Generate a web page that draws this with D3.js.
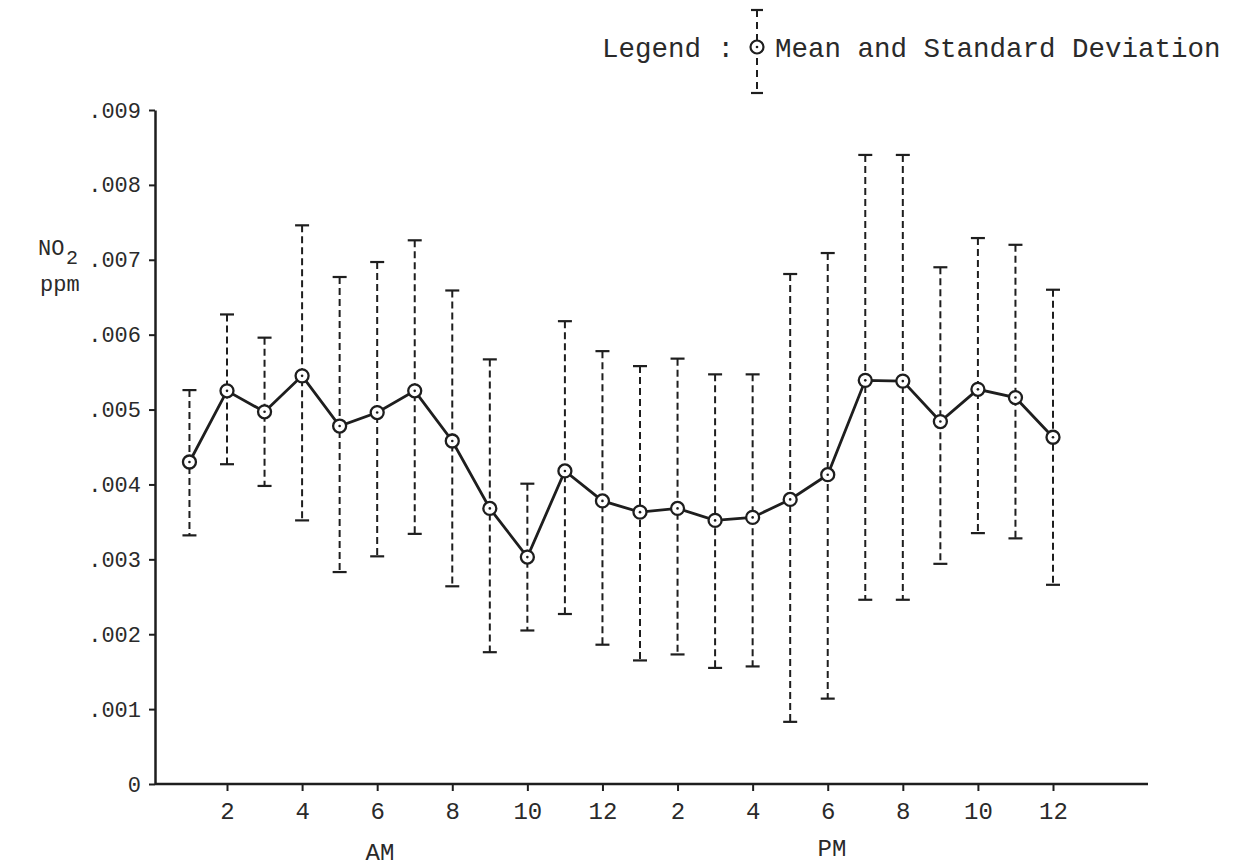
<!DOCTYPE html>
<html>
<head>
<meta charset="utf-8">
<script src="https://cdn.jsdelivr.net/npm/d3@7"></script>
<style>
  html, body { margin: 0; padding: 0; background: #ffffff; }
  svg { display: block; }
  text { font-family: "Liberation Mono", "DejaVu Sans Mono", monospace; fill: #2a2a2a; }
</style>
</head>
<body>
<svg id="chart" width="1238" height="867"></svg>
<script>
// ---- data ----
const hours = [1,2,3,4,5,6,7,8,9,10,11,12,13,14,15,16,17,18,19,20,21,22,23,24];
const meanNO2 = [0.00430,0.00525,0.00497,0.00545,0.00478,0.00496,0.00525,0.00458,0.00368,0.00303,0.00418,0.00378,
                 0.00363,0.00368,0.00352,0.00356,0.00380,0.00413,0.00539,0.00538,0.00484,0.00527,0.00516,0.00463];
const upperSD = [0.00526,0.00627,0.00596,0.00746,0.00677,0.00697,0.00726,0.00659,0.00567,0.00401,0.00618,0.00578,
                 0.00558,0.00568,0.00547,0.00547,0.00681,0.00709,0.00840,0.00840,0.00690,0.00729,0.00720,0.00660];
const lowerSD = [0.00332,0.00427,0.00398,0.00352,0.00283,0.00304,0.00334,0.00264,0.00176,0.00205,0.00227,0.00186,
                 0.00165,0.00173,0.00155,0.00157,0.00083,0.00114,0.00246,0.00246,0.00294,0.00335,0.00328,0.00266];
const xTickHours = [2,4,6,8,10,12,14,16,18,20,22,24];
const xTickLabels = ["2","4","6","8","10","12","2","4","6","8","10","12"];
const yTickValues = [0,0.001,0.002,0.003,0.004,0.005,0.006,0.007,0.008,0.009];
const yTickLabels = ["0",".001",".002",".003",".004",".005",".006",".007",".008",".009"];

const svg = d3.select("#chart");
const ink = "#1e1e1e";

const x = d3.scaleLinear().domain([2, 24]).range([227, 1053]);
const y = d3.scaleLinear().domain([0, 0.009]).range([784, 110]);
const axisX0 = 155, axisX1 = 1148;

// ---- y axis ----
const yAxis = d3.axisLeft(y)
  .tickValues(yTickValues)
  .tickFormat((d, i) => yTickLabels[i])
  .tickSize(6).tickPadding(8).tickSizeOuter(0);
const gy = svg.append("g").attr("transform", `translate(${axisX0},0)`).call(yAxis);
gy.select(".domain").attr("stroke", ink).attr("stroke-width", 2.5);
gy.selectAll(".tick line").attr("stroke", ink).attr("stroke-width", 2);
gy.selectAll(".tick text").attr("font-size", 22).attr("fill", "#2a2a2a")
  .style("font-family", "'Liberation Mono', monospace");

// ---- x axis ----
const xAxis = d3.axisBottom(x)
  .tickValues(xTickHours)
  .tickFormat((d, i) => xTickLabels[i])
  .tickSize(7).tickSizeOuter(0);
const gx = svg.append("g").attr("transform", `translate(0,${y(0)})`).call(xAxis);
gx.select(".domain").remove();
gx.append("line").attr("x1", axisX0).attr("x2", axisX1).attr("y1", 0).attr("y2", 0)
  .attr("stroke", ink).attr("stroke-width", 2.5);
gx.selectAll(".tick line").attr("stroke", ink).attr("stroke-width", 2);
gx.selectAll(".tick text").attr("font-size", 24).attr("dy", 0).attr("y", 35).attr("fill", "#2a2a2a")
  .style("font-family", "'Liberation Mono', monospace");

// AM / PM
svg.append("text").attr("x", 380).attr("y", 860).attr("text-anchor", "middle").attr("font-size", 24).text("AM");
svg.append("text").attr("x", 832).attr("y", 856).attr("text-anchor", "middle").attr("font-size", 24).text("PM");

// y title NO2 ppm
svg.append("text").attr("x", 38).attr("y", 255).attr("font-size", 22).text("NO");
svg.append("text").attr("x", 66).attr("y", 264).attr("font-size", 20).text("2");
svg.append("text").attr("x", 40).attr("y", 291).attr("font-size", 22).text("ppm");

// ---- error bars ----
const capW = 7;
const bars = svg.append("g");
hours.forEach((h, i) => {
  const cx = x(h);
  bars.append("line").attr("x1", cx).attr("x2", cx)
    .attr("y1", y(upperSD[i])).attr("y2", y(lowerSD[i]))
    .attr("stroke", ink).attr("stroke-width", 2)
    .attr("stroke-dasharray", "7,4");
  [upperSD[i], lowerSD[i]].forEach(v => {
    bars.append("line").attr("x1", cx - capW).attr("x2", cx + capW)
      .attr("y1", y(v)).attr("y2", y(v))
      .attr("stroke", ink).attr("stroke-width", 2.2);
  });
});

// ---- mean line ----
const line = d3.line().x((d, i) => x(hours[i])).y(d => y(d));
svg.append("path").datum(meanNO2).attr("d", line)
  .attr("fill", "none").attr("stroke", ink).attr("stroke-width", 2.8);

// ---- mean markers ----
const marks = svg.append("g");
hours.forEach((h, i) => {
  marks.append("circle").attr("cx", x(h)).attr("cy", y(meanNO2[i])).attr("r", 6.5)
    .attr("fill", "#fff").attr("stroke", ink).attr("stroke-width", 2.3);
  marks.append("circle").attr("cx", x(h)).attr("cy", y(meanNO2[i])).attr("r", 1.3).attr("fill", ink);
});

// ---- legend ----
const lg = svg.append("g");
const lx = 757, ly = 47;
lg.append("line").attr("x1", lx).attr("x2", lx).attr("y1", 10).attr("y2", 93)
  .attr("stroke", ink).attr("stroke-width", 2).attr("stroke-dasharray", "7,5");
lg.append("line").attr("x1", lx - 6).attr("x2", lx + 6).attr("y1", 10).attr("y2", 10).attr("stroke", ink).attr("stroke-width", 2.2);
lg.append("line").attr("x1", lx - 6).attr("x2", lx + 6).attr("y1", 93).attr("y2", 93).attr("stroke", ink).attr("stroke-width", 2.2);
lg.append("circle").attr("cx", lx).attr("cy", ly).attr("r", 6.5).attr("fill", "#fff").attr("stroke", ink).attr("stroke-width", 2.2);
lg.append("circle").attr("cx", lx).attr("cy", ly).attr("r", 1.3).attr("fill", ink);
lg.append("text").attr("x", 602).attr("y", 57).attr("font-size", 27.5).text("Legend :");
lg.append("text").attr("x", 775).attr("y", 57).attr("font-size", 27.5).text("Mean and Standard Deviation");
</script>
</body>
</html>
